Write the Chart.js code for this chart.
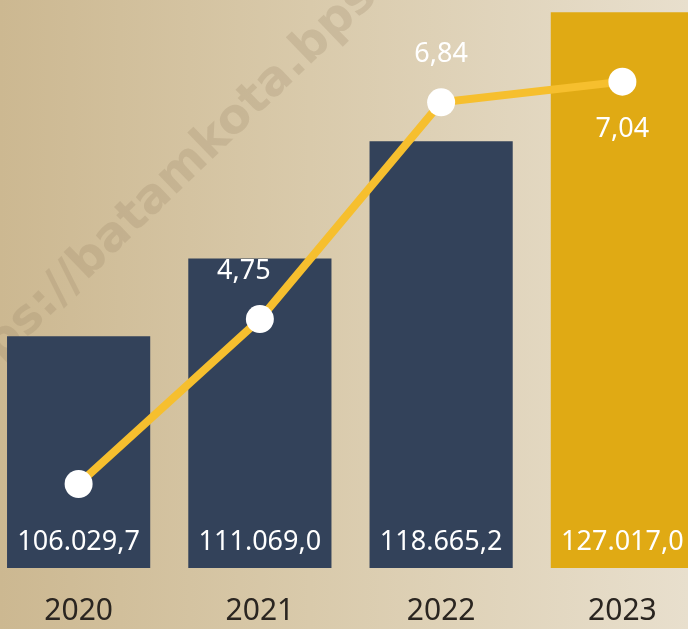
<!DOCTYPE html>
<html>
<head>
<meta charset="utf-8">
<script src="https://cdn.jsdelivr.net/npm/chart.js@4"></script>
<style>
  html, body { margin: 0; padding: 0; overflow: hidden; }
  body {
    width: 688px; height: 629px; position: relative;
    background: linear-gradient(to right, #ccb891 0%, #d9caab 45%, #e8dfcd 100%);
  }
  #wrap { position: absolute; left: -12px; top: 0; width: 725px; height: 629px; }
</style>
</head>
<body>
<div id="wrap"><canvas id="chart"></canvas></div>
<script>
// PDRB (miliar rupiah) and growth (%) per year
var years = ['2020', '2021', '2022', '2023'];
var pdrb = [106029.7, 111069.0, 118665.2, 127017.0];
var growth = [3.16, 4.75, 6.84, 7.04];   // 2020 has no label in the picture, estimated
var showGrowthLabel = [false, true, true, true];
var barColors = ['#33425a', '#33425a', '#33425a', '#e0aa14'];

function fmtId(v, digits) {
  var parts = v.toFixed(digits).split('.');
  parts[0] = parts[0].replace(/\B(?=(\d{3})+(?!\d))/g, '.');
  return parts.join(',');
}

var watermark = {
  id: 'watermark',
  beforeDatasetsDraw: function(chart) {
    var ctx = chart.ctx;
    ctx.save();
    ctx.translate(-44, 418);
    ctx.rotate(-44 * Math.PI / 180);
    ctx.font = 'bold 48px "DejaVu Sans"';
    ctx.fillStyle = 'rgba(150,130,100,0.23)';
    ctx.textBaseline = 'alphabetic';
    ctx.fillText('https://batamkota.bps.go.id', 0, 0);
    ctx.restore();
  }
};

var valueLabels = {
  id: 'valueLabels',
  afterDatasetsDraw: function(chart) {
    var ctx = chart.ctx;
    ctx.save();
    ctx.fillStyle = '#ffffff';
    ctx.textAlign = 'center';
    ctx.textBaseline = 'middle';
    ctx.font = '27px "Noto Sans"';
    var bottom = chart.chartArea.bottom;
    chart.getDatasetMeta(1).data.forEach(function(bar, i) {
      ctx.fillText(fmtId(pdrb[i], 1), bar.x, bottom - 26);
    });
    chart.getDatasetMeta(0).data.forEach(function(pt, i) {
      if (!showGrowthLabel[i]) return;
      var last = i === growth.length - 1;
      var dy = last ? 48 : -48;
      var dx = i === 1 ? -16 : 0;
      ctx.fillText(fmtId(growth[i], 2), pt.x + dx, pt.y + dy);
    });
    ctx.restore();
  }
};

new Chart(document.getElementById('chart'), {
  data: {
    labels: years,
    datasets: [
      {
        type: 'line',
        data: growth,
        yAxisID: 'y1',
        borderColor: '#f6bf2e',
        borderWidth: 8,
        pointRadius: 14,
        pointHoverRadius: 14,
        pointBackgroundColor: '#ffffff',
        pointBorderColor: '#ffffff',
        pointBorderWidth: 0,
        tension: 0,
        order: 0
      },
      {
        type: 'bar',
        data: pdrb,
        yAxisID: 'y',
        backgroundColor: barColors,
        barPercentage: 0.79,
        categoryPercentage: 1,
        order: 1
      }
    ]
  },
  plugins: [watermark, valueLabels],
  options: {
    responsive: true,
    maintainAspectRatio: false,
    animation: false,
    layout: { autoPadding: false, padding: { top: 8, bottom: 0, left: 0, right: 0 } },
    plugins: { legend: { display: false }, tooltip: { enabled: false } },
    scales: {
      x: {
        grid: { display: false },
        border: { display: false },
        ticks: { color: '#2a2520', font: { family: 'Noto Sans', size: 30 }, padding: 17 },
        afterFit: function(scale) { scale.height = 61; }
      },
      y: { display: false, min: 91000, max: 127300 },
      y1: { display: false, min: 2.35, max: 7.75 }
    }
  }
});
</script>
</body>
</html>
